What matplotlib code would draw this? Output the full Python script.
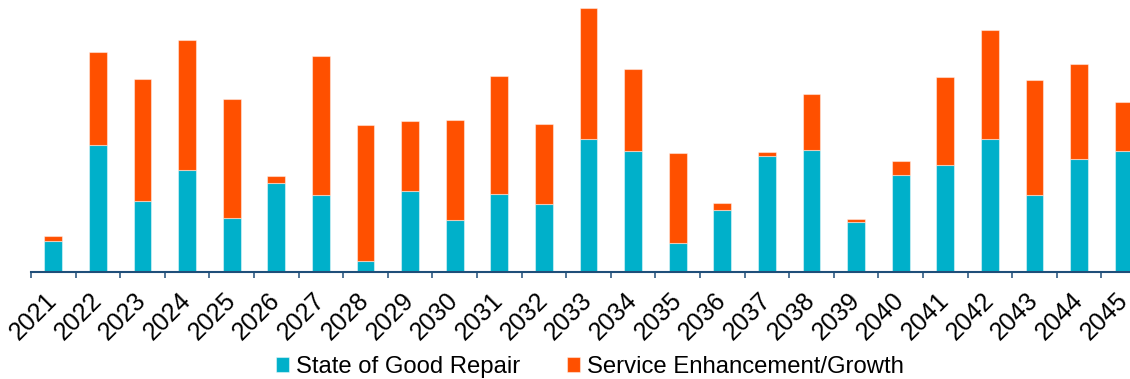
import numpy as np
import matplotlib.pyplot as plt
from matplotlib.ticker import FixedLocator

plt.rcParams['font.family'] = ['Liberation Sans', 'DejaVu Sans']

# annual capital needs by program
years = [str(y) for y in range(2021, 2046)]
good_repair = [30.7, 126.7, 70.4, 102.0, 53.4, 88.4, 76.4, 10.7, 80.7, 51.4,
               77.4, 68.0, 132.7, 120.7, 29.0, 62.0, 115.4, 121.4, 50.0, 97.0,
               106.4, 132.7, 76.4, 113.0, 120.4]
enhancement = [4.7, 92.7, 122.6, 129.4, 119.0, 7.0, 139.3, 136.0, 70.0, 100.3,
               118.6, 79.4, 131.0, 82.3, 89.4, 6.7, 4.3, 56.0, 3.0, 13.4,
               88.3, 108.7, 115.0, 95.0, 49.0]

teal = '#00B0CA'
orange = '#FF5000'
navy = '#1F4E79'

fig = plt.figure(figsize=(11.3, 3.79), dpi=100)
ax = fig.add_axes([31 / 1130, 1 - 271.7 / 379, 1 - 31 / 1130, 271.7 / 379])

x = np.arange(len(years))
edge = (1, 1, 1, 0.45)
ax.bar(x, good_repair, width=0.4, color=teal, edgecolor=edge, linewidth=0.8,
       label='State of Good Repair')
ax.bar(x, enhancement, width=0.4, bottom=good_repair, color=orange,
       edgecolor=edge, linewidth=0.8, label='Service Enhancement/Growth')

ax.set_xlim(-0.5, 24.14)
ax.set_ylim(0, 271.7)

for s in ['top', 'right', 'left']:
    ax.spines[s].set_visible(False)
ax.spines['bottom'].set_color(navy)
ax.spines['bottom'].set_linewidth(1.5)
ax.set_yticks([])

ax.set_xticks(x)
ax.set_xticklabels(years, rotation=45, ha='right', va='center',
                   rotation_mode='anchor', fontsize=18)
ax.tick_params(axis='x', which='major', length=0, pad=18)
ax.xaxis.set_minor_locator(FixedLocator(np.arange(-0.5, 25, 1)))
ax.tick_params(axis='x', which='minor', length=4.3, width=1.1, color=navy)

fig.legend(loc='center', bbox_to_anchor=(590 / 1130, 12 / 379), ncol=2,
           frameon=False, fontsize=17.2, handlelength=0.55, handleheight=0.55,
           handletextpad=0.3, columnspacing=1.93)

fig.savefig('out.png', dpi=100)
